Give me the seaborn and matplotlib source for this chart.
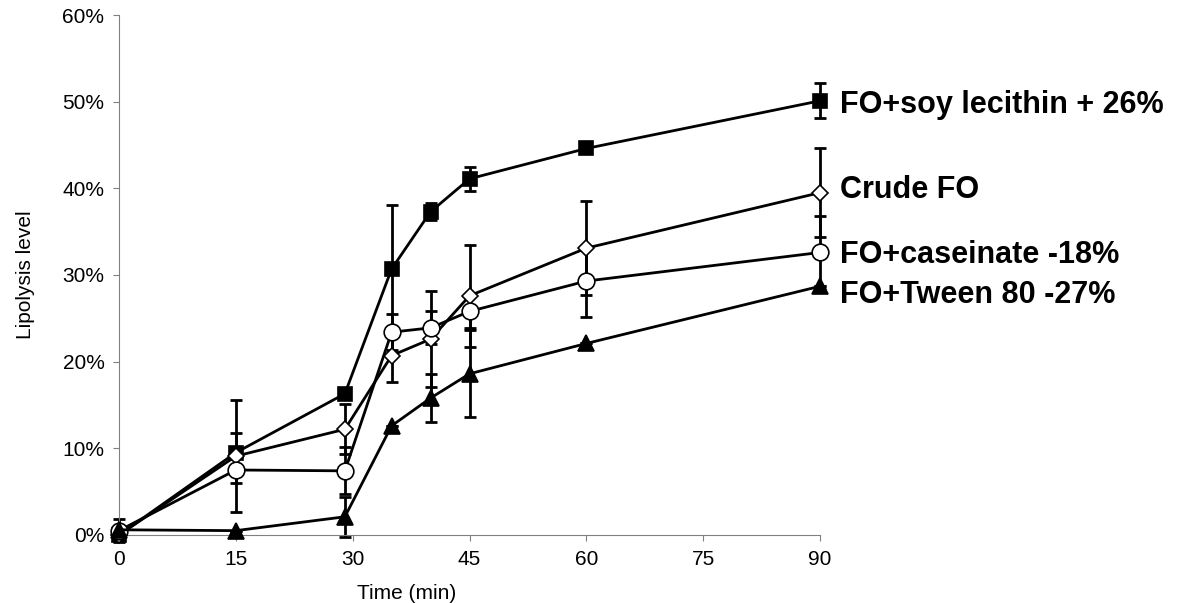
import numpy as np
import pandas as pd
import matplotlib
matplotlib.use("Agg")
import matplotlib.pyplot as plt
import seaborn as sns
from matplotlib.ticker import PercentFormatter

# time points (min)
time = [0, 15, 29, 35, 40, 45, 60, 90]

# lipolysis level (%)
soy = [0.0, 9.5, 16.3, 30.7, 37.3, 41.1, 44.6, 50.1]
soy_err = [0.0, 2.3, 0.0, 7.4, 1.0, 1.4, 0.0, 2.0]
crude = [0.0, 9.1, 12.2, 20.7, 22.6, 27.6, 33.1, 39.5]
crude_err = [0.0, 6.5, 2.9, 3.0, 5.5, 5.9, 5.4, 5.1]
caseinate = [0.5, 7.5, 7.4, 23.4, 23.9, 25.8, 29.3, 32.6]
caseinate_err = [1.3, 1.5, 2.7, 2.1, 1.9, 1.9, 4.1, 4.2]
tween = [0.6, 0.5, 2.1, 12.6, 15.8, 18.6, 22.1, 28.7]
tween_err = [0.0, 0.0, 2.3, 0.0, 2.8, 5.0, 0.0, 0.0]

labels = ["FO+soy lecithin + 26%", "Crude FO", "FO+caseinate -18%", "FO+Tween 80 -27%"]
label_y = [49.6, 39.8, 32.3, 27.7]

series = [
    (soy, soy_err, "s", "black", 10),
    (crude, crude_err, "D", "white", 8),
    (caseinate, caseinate_err, "o", "white", 12),
    (tween, tween_err, "^", "black", 11),
]

sns.set_style("ticks")
plt.rcParams['font.family'] = ['Liberation Sans', 'DejaVu Sans']
plt.rcParams['text.color'] = 'black'
plt.rcParams['axes.labelcolor'] = 'black'
plt.rcParams['xtick.labelcolor'] = 'black'
plt.rcParams['ytick.labelcolor'] = 'black'

fig = plt.figure(figsize=(11.84, 6.03), dpi=100)
ax = fig.add_axes([0.1005, 0.1128, 0.5921, 0.8623])

for vals, err, mk, fc, ms in series:
    ax.errorbar(time, vals, yerr=err, fmt="none", ecolor="black",
                elinewidth=2, capsize=4.5, capthick=2, zorder=2, clip_on=False)

for (vals, err, mk, fc, ms), lab in zip(series, labels):
    df = pd.DataFrame({"time": time, "value": vals})
    sns.lineplot(data=df, x="time", y="value", ax=ax, color="black",
                 linewidth=2, marker=mk, markersize=ms, markerfacecolor=fc,
                 markeredgecolor="black", markeredgewidth=1.2, zorder=3,
                 clip_on=False)

for lab, y in zip(labels, label_y):
    ax.text(92.5, y, lab, fontsize=22, fontweight="bold", va="center",
            ha="left", clip_on=False)

ax.set_xlim(0, 90)
ax.set_ylim(0, 60)
ax.set_xticks([0, 15, 30, 45, 60, 75, 90])
ax.set_yticks(range(0, 61, 10))
ax.yaxis.set_major_formatter(PercentFormatter(decimals=0))
ax.tick_params(labelsize=15, color="#808080", length=4.5, pad=6)
for s in ["left", "bottom"]:
    ax.spines[s].set_color("#808080")
sns.despine(ax=ax)
ax.set_xlabel("Time (min)", fontsize=15)
ax.xaxis.set_label_coords(0.41, -0.094)
ax.set_ylabel("Lipolysis level", fontsize=15, labelpad=20)

fig.savefig("out.png", dpi=100)
